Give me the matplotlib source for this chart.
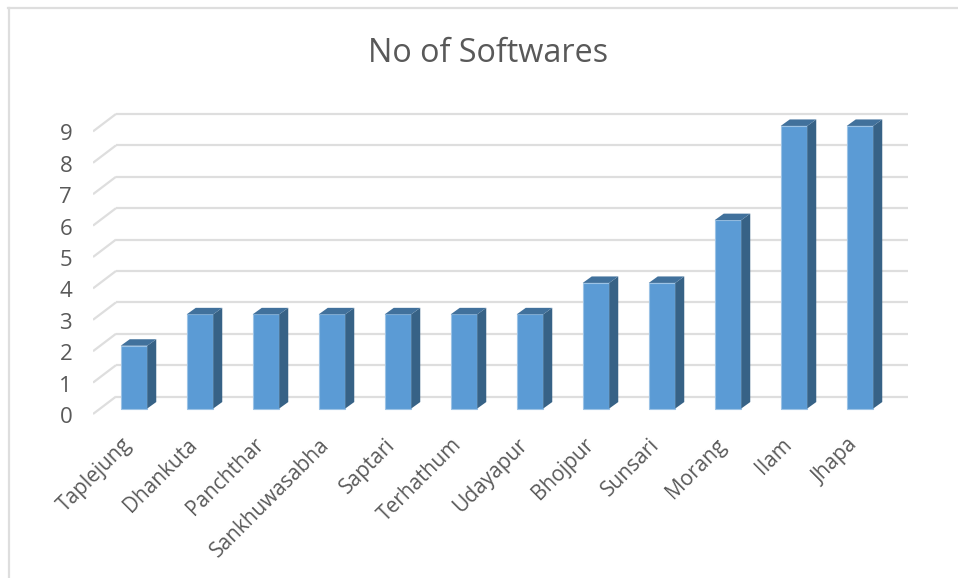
import numpy as np
import matplotlib
matplotlib.use("Agg")
import matplotlib.pyplot as plt
from matplotlib.patches import Polygon

districts = ["Taplejung", "Dhankuta", "Panchthar", "Sankhuwasabha", "Saptari", "Terhathum",
             "Udayapur", "Bhojpur", "Sunsari", "Morang", "Ilam", "Jhapa"]
softwares = [2, 3, 3, 3, 3, 3, 3, 4, 4, 6, 9, 9]
y_ticks = list(range(10))

W, H = 958, 578
px_x = 66.0   # pixels per category
px_y = 31.5   # pixels per unit
x0_px = 134.0
y0_px = 409.5

plt.rcParams["font.family"] = ["Open Sans", "DejaVu Sans"]
fig = plt.figure(figsize=(W / 100, H / 100), dpi=100)

# axes box runs from the front end of the walls to the end of the back wall
left, right, bottom, top = 93.0, 908.0, 415.0, 100.0
ax = fig.add_axes([left / W, 1 - bottom / H, (right - left) / W, (bottom - top) / H])
ax.set_xlim((left - x0_px) / px_x, (right - x0_px) / px_x)
ax.set_ylim((y0_px - bottom) / px_y, (y0_px - top) / px_y)
for s in ax.spines.values():
    s.set_visible(False)
ax.patch.set_alpha(0)

# 3d offsets in data units
bar_w = 26.5 / px_x
dep_x = 9.0 / px_x
dep_y = 6.5 / px_y
front_off = (y0_px - bottom) / px_y
back_x = (116.0 - x0_px) / px_x
back_off = (y0_px - 397.5) / px_y
grid_c = "#dedede"

x_end = (right - x0_px) / px_x
x_start = (left - x0_px) / px_x
for v in y_ticks:
    ax.plot([x_start, back_x], [v + front_off, v + back_off], color=grid_c, lw=1.6, zorder=1,
            solid_capstyle="butt")
    ax.plot([back_x, x_end], [v + back_off, v + back_off], color=grid_c, lw=1.6, zorder=1,
            solid_capstyle="butt")

x = np.arange(len(districts))
ax.bar(x, softwares, width=bar_w, color="#5b9bd5", edgecolor="#9cc3e6", linewidth=0.8, zorder=3)
for xi, v in zip(x, softwares):
    xl, xr = xi - bar_w / 2, xi + bar_w / 2
    ax.add_patch(Polygon([(xr, 0), (xr + dep_x, dep_y), (xr + dep_x, v + dep_y), (xr, v)],
                         facecolor="#376286", edgecolor="none", zorder=3))
    ax.add_patch(Polygon([(xl, v), (xl + dep_x, v + dep_y), (xr + dep_x, v + dep_y), (xr, v)],
                         facecolor="#41719c", edgecolor="none", zorder=3))

ax.set_yticks([v + front_off - 1.0 / px_y for v in y_ticks])
ax.set_yticklabels([str(v) for v in y_ticks])
# labels end left of the bar centre
ax.set_xticks(x - 13.0 / px_x)
ax.set_xticklabels(districts, rotation=45, ha="right", va="top", rotation_mode="anchor")
ax.tick_params(axis="both", length=0, labelcolor="#595959")
ax.tick_params(axis="y", pad=15, labelsize=16)
ax.tick_params(axis="x", pad=14, labelsize=15)

fig.text(488 / W, 1 - 54 / H, "No of Softwares", fontsize=23.3, color="#595959", ha="center", va="center")

# chart frame: top and left edges only are in the crop
fig.add_artist(plt.Line2D([8.5 / W, 8.5 / W], [1 - 577 / H, 1 - 8 / H], color=grid_c, lw=1.6))
fig.add_artist(plt.Line2D([8 / W, 1], [1 - 8 / H, 1 - 8 / H], color=grid_c, lw=1.6))

fig.savefig("out.png", dpi=100)
